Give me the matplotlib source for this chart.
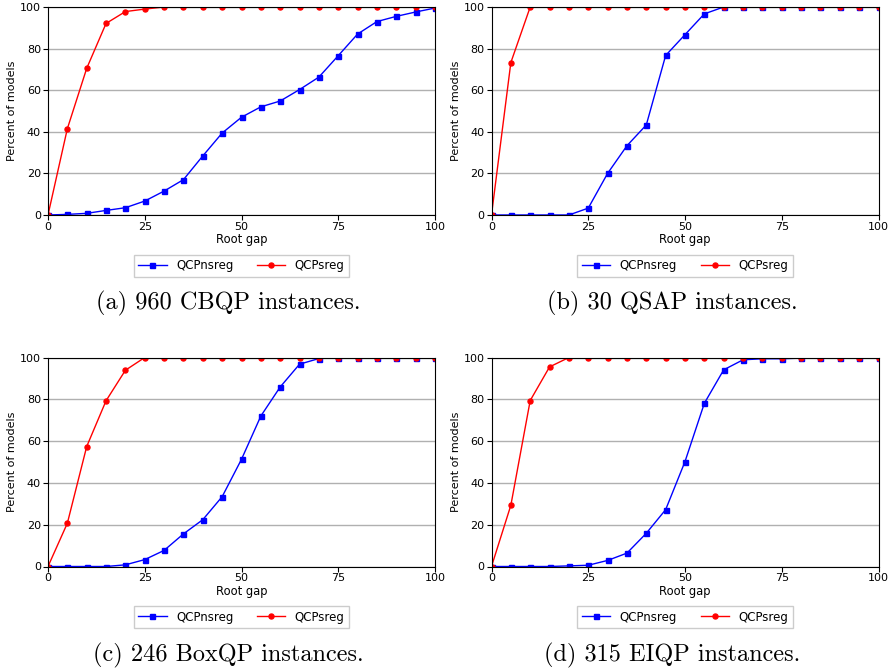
import matplotlib
matplotlib.use("Agg")
import matplotlib.pyplot as plt

x_gap = [0, 5, 10, 15, 20, 25, 30, 35, 40, 45, 50, 55, 60, 65, 70, 75, 80, 85, 90, 95, 100]

cbqp_nsreg = [0, 0.3, 0.8, 2.2, 3.5, 6.7, 11.5, 17.0, 28.4, 39.4, 47.0, 52.0, 54.8, 60.3, 66.3, 76.6, 87.0, 93.0, 95.5, 97.6, 99.5]
cbqp_sreg = [0, 41.5, 70.5, 92.1, 97.8, 99.0, 100, 100, 100, 100, 100, 100, 100, 100, 100, 100, 100, 100, 100, 100, 100]

qsap_nsreg = [0, 0, 0, 0, 0, 3.3, 20.0, 33.3, 43.3, 76.7, 86.7, 96.7, 100, 100, 100, 100, 100, 100, 100, 100, 100]
qsap_sreg = [0, 73.3, 100, 100, 100, 100, 100, 100, 100, 100, 100, 100, 100, 100, 100, 100, 100, 100, 100, 100, 100]

boxqp_nsreg = [0, 0, 0, 0, 0.8, 3.3, 7.7, 15.6, 22.4, 33.4, 51.3, 72.0, 85.9, 96.8, 99.5, 100, 100, 100, 100, 100, 100]
boxqp_sreg = [0, 20.7, 57.4, 79.3, 93.9, 100, 100, 100, 100, 100, 100, 100, 100, 100, 100, 100, 100, 100, 100, 100, 100]

eiqp_nsreg = [0, 0, 0, 0, 0.3, 0.6, 2.9, 6.4, 15.9, 27.2, 50.2, 78.1, 94.1, 98.9, 99.4, 99.4, 99.7, 100, 100, 100, 100]
eiqp_sreg = [0, 29.3, 79.4, 95.5, 100, 100, 100, 100, 100, 100, 100, 100, 100, 100, 100, 100, 100, 100, 100, 100, 100]

captions = ["(a) 960 CBQP instances.", "(b) 30 QSAP instances.",
            "(c) 246 BoxQP instances.", "(d) 315 EIQP instances."]
series = [(cbqp_nsreg, cbqp_sreg), (qsap_nsreg, qsap_sreg),
          (boxqp_nsreg, boxqp_sreg), (eiqp_nsreg, eiqp_sreg)]
labels = ["QCPnsreg", "QCPsreg"]

W, H = 891, 668
fig = plt.figure(figsize=(W / 100, H / 100), dpi=100)

# axes pixel boxes: left, top, right, bottom
boxes = [(48, 7, 435, 215), (491.5, 7, 878.5, 215),
         (48, 357.5, 435, 566.5), (491.5, 357.5, 878.5, 566.5)]
legend_y = [266, 266, 617, 617]
caption_y = [303, 303, 655, 655]

for i, (box, (ns, s)) in enumerate(zip(boxes, series)):
    l, t, r, b = box
    ax = fig.add_axes([l / W, 1 - b / H, (r - l) / W, (b - t) / H])
    ax.plot(x_gap, ns, color="blue", marker="s", markersize=3.6, linewidth=1.0, label=labels[0])
    ax.plot(x_gap, s, color="red", marker="o", markersize=3.6, linewidth=1.0, label=labels[1])
    ax.set_xlim(0, 100)
    ax.set_ylim(0, 100)
    ax.set_xticks([0, 25, 50, 75, 100])
    ax.set_yticks([0, 20, 40, 60, 80, 100])
    ax.yaxis.grid(True, color="#b0b0b0", linewidth=1.0)
    ax.set_axisbelow(True)
    ax.tick_params(labelsize=8, length=3.5, pad=1.5)
    ax.set_xlabel("Root gap", fontsize=8.3, labelpad=1)
    ax.set_ylabel("Percent of models", fontsize=8, labelpad=2)
    cx = (l + r) / 2
    fig.legend(*ax.get_legend_handles_labels(), loc="center",
               bbox_to_anchor=(cx / W, 1 - legend_y[i] / H), ncol=2,
               fontsize=8.5, handlelength=2.4, columnspacing=2.0,
               fancybox=False, edgecolor="#cccccc", framealpha=1.0)
    fig.text((cx - 13) / W, 1 - caption_y[i] / H, captions[i], ha="center", va="center",
             fontsize=17.5, family="cmr10")

fig.savefig("out.png", dpi=100)
